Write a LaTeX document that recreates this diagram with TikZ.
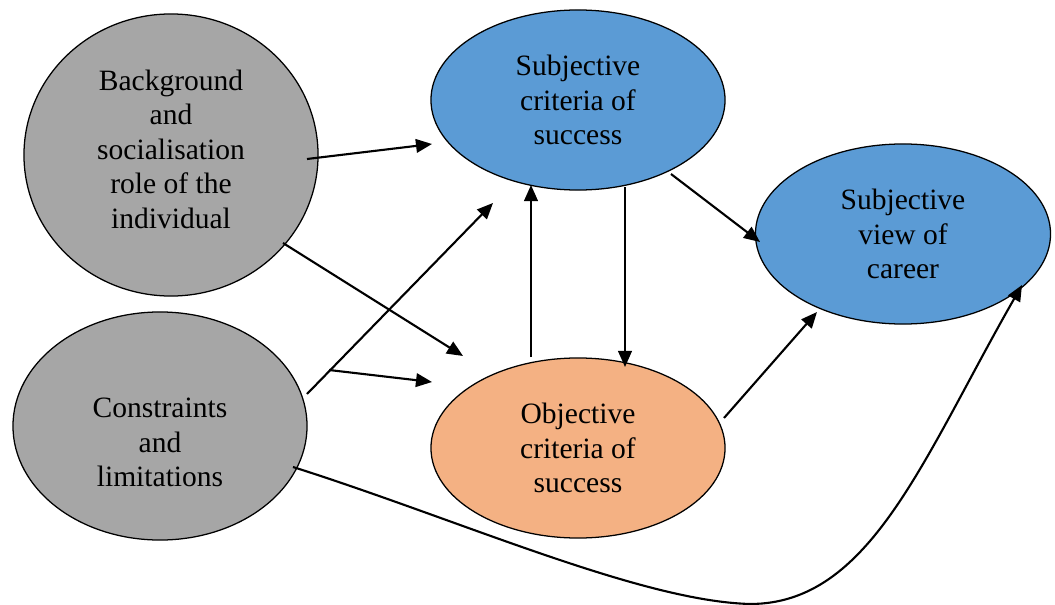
\documentclass[tikz,border=0pt]{standalone}
\usepackage{fontspec}
\setmainfont{Liberation Serif}
\usetikzlibrary{arrows.meta,shapes.geometric}
\definecolor{greyfill}{HTML}{A6A6A6}
\definecolor{bluefill}{HTML}{5B9BD5}
\definecolor{orangefill}{HTML}{F4B183}
\begin{document}
\begin{tikzpicture}[x=0.025cm,y=-0.025cm,
  bubble/.style={ellipse, draw=black, line width=0.9pt, inner sep=0pt, minimum width=7.35cm},
  caption/.style={align=center, font=\fontsize{21}{24.5}\selectfont, inner sep=0pt},
  arr/.style={line width=1.5pt, -{Triangle[length=0.4cm,width=0.34cm]}}]
\useasboundingbox (0,0) rectangle (1055,605);

% the five factors
\node[bubble, fill=greyfill, minimum height=7.05cm,
  label={[caption, yshift=0.15cm]center:{Background\\and\\socialisation\\role of the\\individual}}] (bg) at (171,155) {};
\node[bubble, fill=greyfill, minimum height=5.7cm,
  label={[caption, yshift=-0.42cm]center:{Constraints\\and\\limitations}}] (con) at (160,426) {};
\node[bubble, fill=bluefill, minimum height=4.5cm,
  label={[caption]center:{Subjective\\criteria of\\success}}] (sc) at (578,100) {};
\node[bubble, fill=orangefill, minimum height=4.5cm,
  label={[caption]center:{Objective\\criteria of\\success}}] (obj) at (578,448) {};
\node[bubble, fill=bluefill, minimum height=4.5cm, minimum width=7.375cm,
  label={[caption]center:{Subjective\\view of\\career}}] (view) at (903,234) {};

% influences
\draw[arr] ([shift={(136,4)}]bg.center) -- ([shift={(-146,44)}]sc.center);
\draw[arr] ([shift={(112,88)}]bg.center) -- ([shift={(-115,-92)}]obj.center);
\draw[arr] ([shift={(147,-32)}]con.center) -- ([shift={(-85,103)}]sc.center);
\draw[arr] ([shift={(169,-56)}]con.center) -- ([shift={(-146,-66)}]obj.center);
\draw[arr] ([shift={(-47,-91)}]obj.center) -- ([shift={(-47,85)}]sc.center);
\draw[arr] ([shift={(47,87)}]sc.center) -- ([shift={(47,-81)}]obj.center);
\draw[arr] ([shift={(93,74)}]sc.center) -- ([shift={(-143,8)}]view.center);
\draw[arr] ([shift={(146,-30)}]obj.center) -- ([shift={(-86,78)}]view.center);

% long curved link from constraints to the view of career
\coordinate (low) at (750,604);
\draw[arr] ([shift={(133,41)}]con.center)
  .. controls +(167,53) and +(-110,-3) .. (low)
  .. controls +(120,0) and +(-100,175) .. ([shift={(119,51)}]view.center);
\end{tikzpicture}
\end{document}
